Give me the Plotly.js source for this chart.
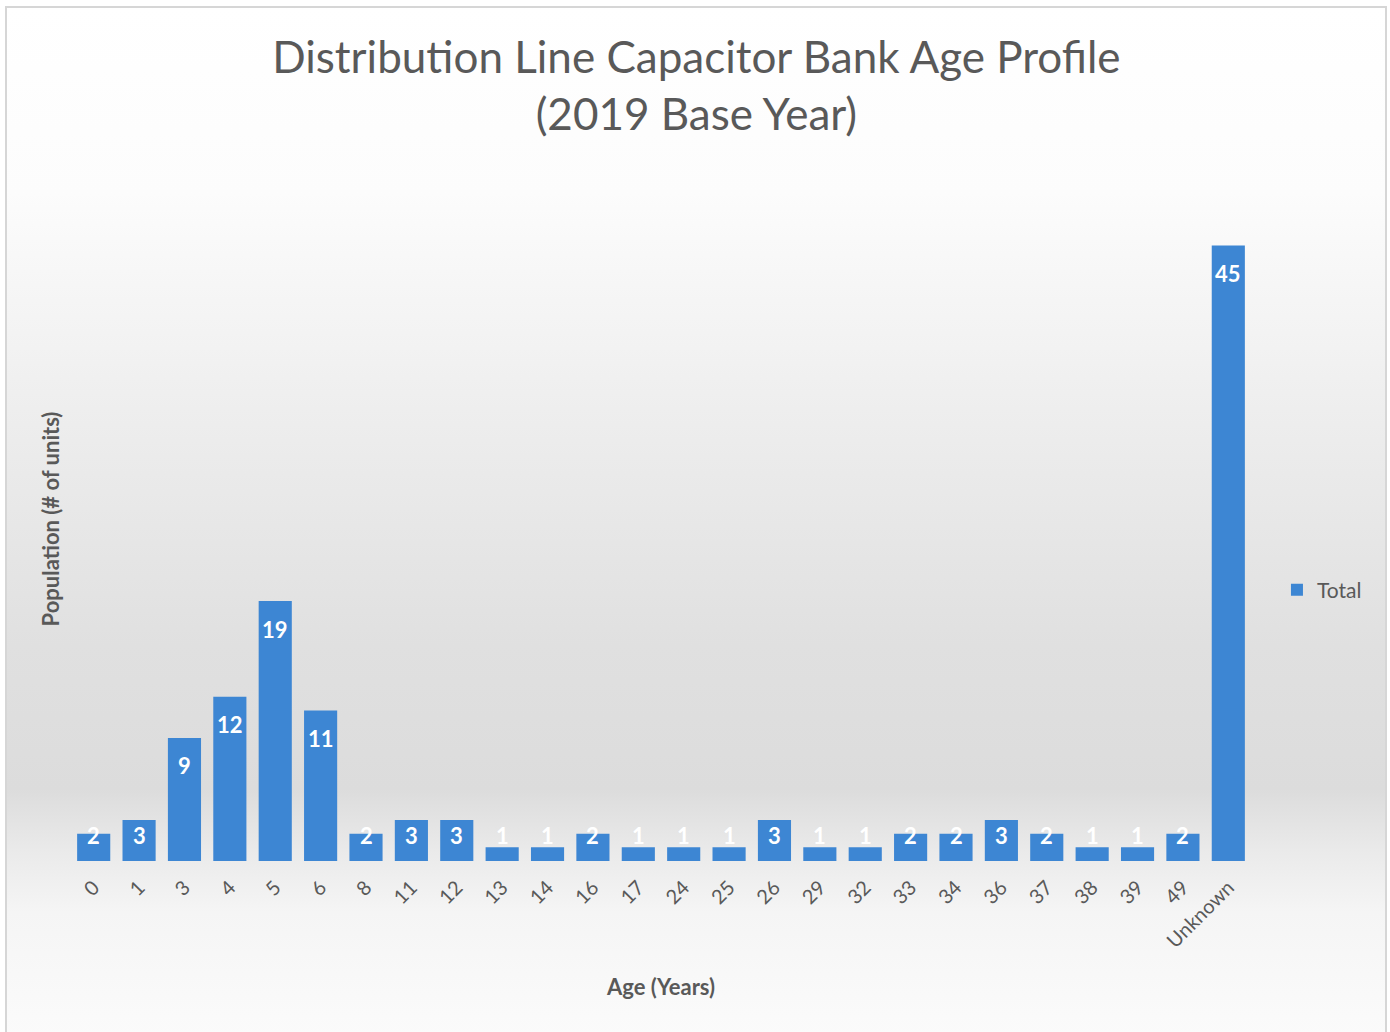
<!DOCTYPE html>
<html>
<head>
<meta charset="utf-8">
<script src="https://cdn.plot.ly/plotly-3.0.1.min.js"></script>
<style>
  html, body { margin: 0; padding: 0; background: #ffffff; }
  #frame {
    position: absolute; left: 5px; top: 6px; width: 1382px; height: 1030px;
    box-sizing: border-box;
    border-top: 2px solid #d6d6d6; border-left: 2px solid #d6d6d6; border-right: 2px solid #d6d6d6;
    background: linear-gradient(to bottom, #ffffff 0%, #fcfcfc 18%, #ececec 42%, #e0e0e0 62%, #dcdcdc 76%, #eaeaea 82%, #f5f5f5 88%, #fbfbfb 100%);
  }
  #chart { position: absolute; left: 0; top: 0; width: 1390px; height: 1032px; }
</style>
</head>
<body>
<div id="frame"></div>
<div id="chart"></div>
<script>
// Capacitor bank counts by age (years)
const ages = ["0", "1", "3", "4", "5", "6", "8", "11", "12", "13", "14", "16", "17", "24", "25",
              "26", "29", "32", "33", "34", "36", "37", "38", "39", "49", "Unknown"];
const totals = [2, 3, 9, 12, 19, 11, 2, 3, 3, 1, 1, 2, 1, 1, 1,
                3, 1, 1, 2, 2, 3, 2, 1, 1, 2, 45];

const barColor = "#3d86d3";
const textGray = "#595959";
const fontFamily = "Lato, 'Open Sans', sans-serif";

// Value labels sit just inside the top of each bar, held clear of the baseline on short bars.
// On a category axis annotations take the category's serial index.
const labels = ages.map((a, i) => ({
  x: i,
  y: Math.max(totals[i] - 2.05, 1.83),
  xref: "x", yref: "y",
  text: String(totals[i]),
  showarrow: false,
  yanchor: "middle",
  font: { family: fontFamily, size: 22, color: "#ffffff", weight: "bold" }
}));

const trace = {
  type: "bar",
  name: "Total",
  x: ages,
  y: totals,
  marker: { color: barColor },
  hoverinfo: "x+y"
};

const layout = {
  width: 1390, height: 1032,
  paper_bgcolor: "rgba(0,0,0,0)",
  plot_bgcolor: "rgba(0,0,0,0)",
  margin: { l: 71, r: 139, t: 177, b: 171 },
  bargap: 0.27,
  font: { family: fontFamily, color: textGray },
  title: {
    text: "Distribution Line Capacitor Bank Age Profile<br>(2019 Base Year)",
    x: 0.501, xref: "container", xanchor: "center",
    y: 0.929, yref: "container", yanchor: "top",
    font: { family: fontFamily, size: 44, color: textGray }
  },
  xaxis: {
    type: "category",
    range: [-0.5, ages.length - 0.5],
    tickangle: -45,
    ticklabelstandoff: 10,
    tickfont: { family: fontFamily, size: 20, color: textGray },
    showline: false, showgrid: false, zeroline: false, ticks: "",
    title: { text: "Age (Years)", standoff: 28,
             font: { family: fontFamily, size: 22, color: textGray, weight: "bold" } }
  },
  yaxis: {
    range: [0, 50],
    showticklabels: false, showline: false, showgrid: false, zeroline: false, ticks: "",
    title: { text: "Population (# of units)", standoff: 4,
             font: { family: fontFamily, size: 22, color: textGray, weight: "bold" } }
  },
  showlegend: true,
  legend: {
    x: 1.022, y: 0.396, xanchor: "left", yanchor: "middle",
    bgcolor: "rgba(0,0,0,0)",
    font: { family: fontFamily, size: 21, color: textGray },
    itemwidth: 30
  },
  annotations: labels
};

Plotly.newPlot("chart", [trace], layout, { displayModeBar: false, responsive: false });
</script>
</body>
</html>
